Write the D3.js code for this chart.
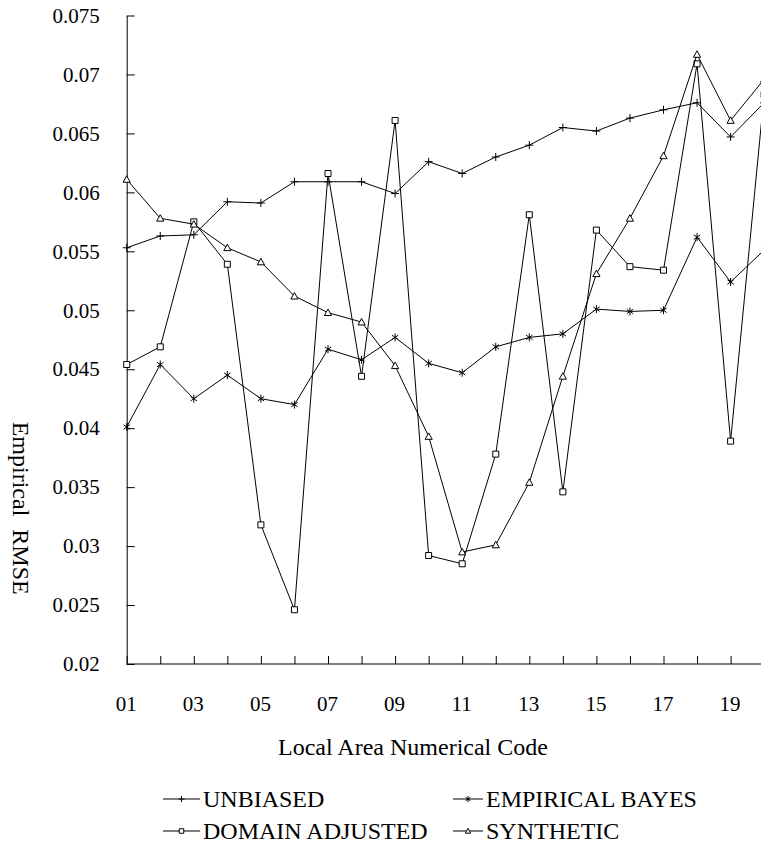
<!DOCTYPE html>
<html>
<head>
<meta charset="utf-8">
<script src="https://cdn.jsdelivr.net/npm/d3@7"></script>
<style>
  body { margin: 0; background: #fff; }
  svg { display: block; overflow: hidden; }
  text { font-family: "Liberation Serif", "Times New Roman", serif; fill: #000; }
  .axis path, .axis line { stroke: #000; stroke-width: 1; }
  .axis text { font-size: 21px; }
  .series path.line { fill: none; stroke: #000; stroke-width: 1; }
  .mark { fill: #fff; stroke: #000; stroke-width: 1; }
</style>
</head>
<body>
<div id="chart"></div>
<script>
var codes = ["01","02","03","04","05","06","07","08","09","10",
             "11","12","13","14","15","16","17","18","19","20"];

var unbiased       = [0.0553,0.0563,0.0564,0.0592,0.0591,0.0609,0.0609,0.0609,0.0599,0.0626,
                      0.0616,0.0630,0.0640,0.0655,0.0652,0.0663,0.0670,0.0676,0.0647,0.0676];
var empiricalBayes = [0.0401,0.0454,0.0425,0.0445,0.0425,0.0420,0.0467,0.0458,0.0477,0.0455,
                      0.0447,0.0469,0.0477,0.0480,0.0501,0.0499,0.0500,0.0562,0.0524,0.0551];
var domainAdjusted = [0.0454,0.0469,0.0575,0.0539,0.0318,0.0246,0.0616,0.0444,0.0661,0.0292,
                      0.0285,0.0378,0.0581,0.0346,0.0568,0.0537,0.0534,0.0709,0.0389,0.0683];
var synthetic      = [0.0611,0.0578,0.0573,0.0553,0.0541,0.0512,0.0498,0.0490,0.0453,0.0393,
                      0.0295,0.0301,0.0354,0.0444,0.0531,0.0578,0.0631,0.0717,0.0661,0.0696];

var yTickValues = [0.02,0.025,0.03,0.035,0.04,0.045,0.05,0.055,0.06,0.065,0.07,0.075];
var yTickLabels = ["0.02","0.025","0.03","0.035","0.04","0.045","0.05","0.055","0.06","0.065","0.07","0.075"];
var xTickLabels = ["01","03","05","07","09","11","13","15","17","19"];

var seriesNames = ["UNBIASED","EMPIRICAL BAYES","DOMAIN ADJUSTED","SYNTHETIC"];
var seriesValues = [unbiased, empiricalBayes, domainAdjusted, synthetic];
var seriesMarks = ["plus","star","square","triangle"];

var W = 761, H = 844;
var plotLeft = 126.7, plotTop = 15.5, plotBottom = 664, step = 33.55;

var svg = d3.select("#chart")
  .append("svg")
  .attr("width", W)
  .attr("height", H);

var x = d3.scalePoint()
  .domain(codes)
  .range([plotLeft, plotLeft + step * (codes.length - 1)]);

var y = d3.scaleLinear()
  .domain([0.02, 0.075])
  .range([plotBottom, plotTop]);

// marker shapes
function markPath(type, s) {
  if (type == "plus") return "M" + (-s) + ",0H" + s + "M0," + (-s) + "V" + s;
  if (type == "star") {
    var d = s * 0.8;
    return "M0," + (-s) + "V" + s +
           "M" + (-d) + "," + (-d * 0.7) + "L" + d + "," + (d * 0.7) +
           "M" + (-d) + "," + (d * 0.7) + "L" + d + "," + (-d * 0.7);
  }
  if (type == "square") {
    var h = s * 0.75;
    return "M" + (-h) + "," + (-h) + "H" + h + "V" + h + "H" + (-h) + "Z";
  }
  // triangle
  var t = s * 0.9;
  return "M0," + (-t) + "L" + t + "," + (t * 0.8) + "L" + (-t) + "," + (t * 0.8) + "Z";
}

// axes
var yAxis = d3.axisLeft(y)
  .tickValues(yTickValues)
  .tickSizeInner(-8)
  .tickSizeOuter(0)
  .tickPadding(27)
  .tickFormat(function(d, i) { return yTickLabels[i]; });

svg.append("g")
  .attr("class", "axis")
  .attr("transform", "translate(" + plotLeft + ",0)")
  .call(yAxis);

var xAxis = d3.axisBottom(x)
  .tickSizeInner(-8)
  .tickSizeOuter(0)
  .tickPadding(32)
  .tickFormat(function(d) { return xTickLabels.indexOf(d) >= 0 ? d : ""; });

var gx = svg.append("g")
  .attr("class", "axis")
  .attr("transform", "translate(0," + plotBottom + ")")
  .call(xAxis);
gx.select(".domain").attr("d", "M" + plotLeft + ",0H" + (W + 20));
gx.selectAll(".tick text").attr("dx", "-1");

// axis titles
svg.append("text")
  .attr("x", 413)
  .attr("y", 755)
  .attr("text-anchor", "middle")
  .style("font-size", "24px")
  .text("Local Area Numerical Code");

svg.append("text")
  .attr("transform", "translate(18,469) rotate(90)")
  .attr("text-anchor", "middle")
  .attr("dominant-baseline", "middle")
  .style("font-size", "24px")
  .text("Empirical");

svg.append("text")
  .attr("transform", "translate(18,562) rotate(90)")
  .attr("text-anchor", "middle")
  .attr("dominant-baseline", "middle")
  .style("font-size", "24px")
  .text("RMSE");

// lines
var line = d3.line()
  .x(function(d, i) { return x(codes[i]); })
  .y(function(d) { return y(d); });

var series = svg.selectAll(".series")
  .data(seriesValues)
  .enter().append("g")
  .attr("class", "series");

series.append("path")
  .attr("class", "line")
  .attr("d", function(d) { return line(d); });

series.each(function(vals, si) {
  d3.select(this).selectAll(".mark")
    .data(vals)
    .enter().append("path")
    .attr("class", "mark")
    .attr("transform", function(d, i) { return "translate(" + x(codes[i]) + "," + y(d) + ")"; })
    .attr("d", markPath(seriesMarks[si], 4));
});

// legend
var legendPos = [[163, 799], [453, 799], [163, 831], [453, 831]];
var legendLen = [37, 30, 37, 30];

var lg = svg.selectAll(".legend")
  .data(seriesNames)
  .enter().append("g")
  .attr("class", "legend")
  .attr("transform", function(d, i) { return "translate(" + legendPos[i][0] + "," + legendPos[i][1] + ")"; });

lg.append("line")
  .attr("x1", 0)
  .attr("x2", function(d, i) { return legendLen[i]; })
  .attr("stroke", "#000");

lg.append("path")
  .attr("class", "mark")
  .attr("transform", function(d, i) { return "translate(" + (legendLen[i] / 2) + ",0)"; })
  .attr("d", function(d, i) { return markPath(seriesMarks[i], 3); });

lg.append("text")
  .attr("x", function(d, i) { return legendLen[i] + 3; })
  .attr("y", 8)
  .style("font-size", "24px")
  .text(function(d) { return d; });
</script>
</body>
</html>
